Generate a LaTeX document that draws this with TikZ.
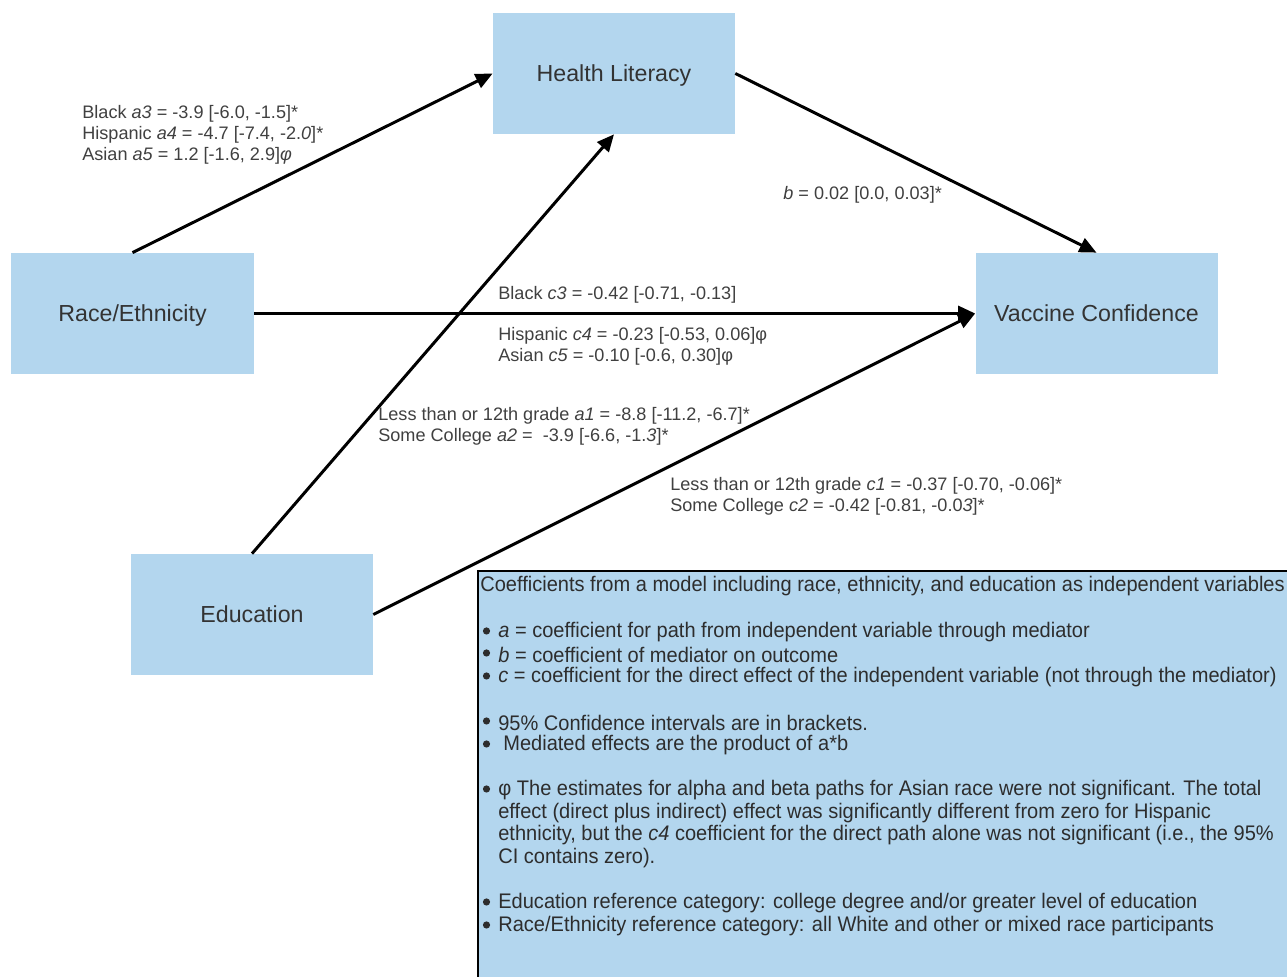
\documentclass[tikz,border=0pt]{standalone}
\usepackage{fontspec}
\setmainfont{Liberation Sans}
\newfontfamily\notefont[FakeStretch=0.95]{Liberation Sans}
\usetikzlibrary{arrows.meta}

\definecolor{pathBox}{RGB}{179,214,238}
\definecolor{pathText}{RGB}{51,51,51}
\definecolor{pathLabel}{RGB}{64,64,64}
\definecolor{pathNote}{RGB}{45,45,45}

\begin{document}
\begin{tikzpicture}[x=1cm,y=1cm,
    factor/.style={fill=pathBox, minimum width=4.84cm, minimum height=2.42cm,
      font=\fontsize{13.2}{15.8}\selectfont, text=pathText, inner sep=0pt,
      text depth=0pt},
    link/.style={draw=black, line width=1.7pt,
      -{Triangle[length=.34cm,width=.3cm]}},
    coef/.style={font=\fontsize{10.3}{11.9}\selectfont, text=pathLabel,
      anchor=west, align=left, inner sep=0pt, yshift=-.05cm},
    note/.style={font=\notefont\fontsize{12}{13}\selectfont, text=pathNote,
      anchor=west, inner sep=0pt, yshift=-.05cm},
    notebox/.style={draw=black, fill=pathBox, line width=1.5pt}]
  \useasboundingbox (0,0) rectangle (25.74,19.54);
  \fill[white] (0,0) rectangle (25.74,19.54);

  \node[factor] (health) at (12.28,18.07) {Health Literacy};
  \node[factor] (race) at (2.65,13.27) {Race/Ethnicity};
  \node[factor] (vaccine) at (21.93,13.27) {Vaccine Confidence};
  \node[factor] (edu) at (5.04,7.25) {Education};

  \draw[link] (race.north) -- (health.west);
  \draw[link] (edu.north) -- (health.south);
  \draw[link] (health.east) -- (vaccine.north);
  \draw[link] (race.east) -- (vaccine.west);
  \draw[link] (edu.east) -- (vaccine.west);

  \node[coef] (coefA3) at (1.64,16.90)
    {Black \textit{a3} = -3.9 [-6.0, -1.5]*\\
     Hispanic \textit{a4} = -4.7 [-7.4, -2.\textit{0}]*\\
     Asian \textit{a5} = 1.2 [-1.6, 2.9]\textit{φ}};
  \node[coef] (coefB) at (15.66,15.70) {\textit{b} = 0.02 [0.0, 0.03]*};
  \node[coef] (coefC3) at (9.96,13.70) {Black \textit{c3} = -0.42 [-0.71, -0.13]};
  \node[coef] (coefC4) at (9.96,12.67)
    {Hispanic \textit{c4} = -0.23 [-0.53, 0.06]φ\\
     Asian \textit{c5} = -0.10 [-0.6, 0.30]φ};
  \node[coef] (coefA1) at (7.56,11.07)
    {Less than or 12th grade \textit{a1} = -8.8 [-11.2, -6.7]*\\
     Some College \textit{a2} = \ -3.9 [-6.6, -1.\textit{3}]*};
  \node[coef] (coefC1) at (13.40,9.67)
    {Less than or 12th grade \textit{c1} = -0.37 [-0.70, -0.06]*\\
     Some College \textit{c2} = -0.42 [-0.81, -0.0\textit{3}]*};

  \begin{scope}
    \clip (0,0) rectangle (25.74,19.54);
    \path[notebox] (9.56,8.12) rectangle (26.2,-.5);
  \end{scope}
  \node[note] (note1) at (9.60,7.86)
    {Coefficients from a model including race, ethnicity, and education as independent variables};
  \node[note] (note2) at (9.96,6.94)
    {\textit{a} = coefficient for path from independent variable through mediator};
  \node[note] (note3) at (9.96,6.50)
    {\textit{b} = coefficient of mediator on outcome};
  \node[note] (note4) at (9.96,6.04)
    {\textit{c} = coefficient for the direct effect of the independent variable (not through the mediator)};
  \node[note] (note5) at (9.96,5.14)
    {95\% Confidence intervals are in brackets.};
  \node[note] (note6) at (10.06,4.68)
    {Mediated effects are the product of a*b};
  \node[note] (note7) at (9.96,3.78)
    {φ The estimates for alpha and beta paths for Asian race were not significant. The total};
  \node[note] (note8) at (9.96,3.32)
    {effect (direct plus indirect) effect was significantly different from zero for Hispanic};
  \node[note] (note9) at (9.96,2.88)
    {ethnicity, but the \textit{c4} coefficient for the direct path alone was not significant (i.e., the 95\%};
  \node[note] (note10) at (9.96,2.42) {CI contains zero).};
  \node[note] (note11) at (9.96,1.52)
    {Education reference category: college degree and/or greater level of education};
  \node[note] (note12) at (9.96,1.06)
    {Race/Ethnicity reference category: all White and other or mixed race participants};
  \foreach \y in {6.94,6.50,6.04,5.14,4.68,3.78,1.52,1.06}{
    \fill[pathNote] (9.73,\y-.02) circle (.072);}
\end{tikzpicture}
\end{document}
